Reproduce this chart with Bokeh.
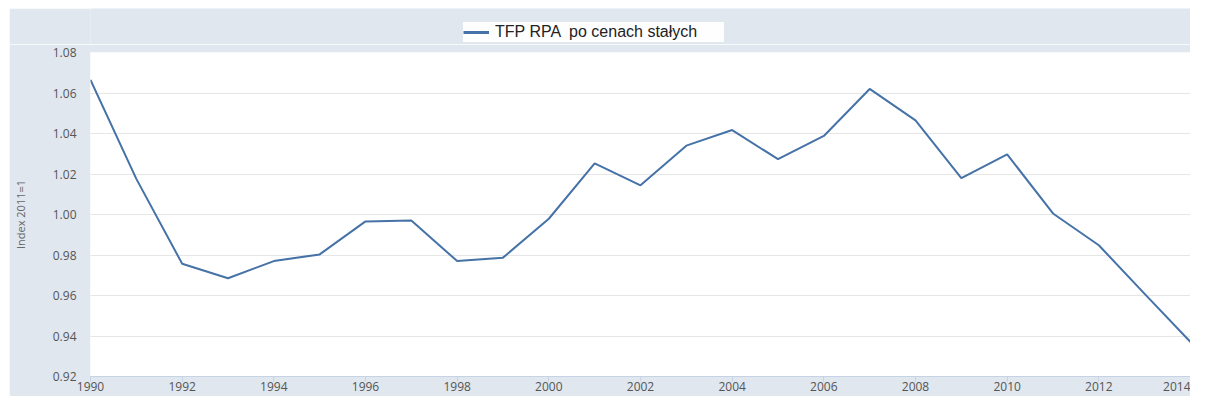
from bokeh.plotting import figure
from bokeh.models import SingleIntervalTicker, Range1d, Legend, LegendItem, NumeralTickFormatter, Spacer
from bokeh.layouts import row, column
from bokeh.embed import file_html
from bokeh.resources import INLINE

years = [1990, 1991, 1992, 1993, 1994, 1995, 1996, 1997, 1998, 1999, 2000, 2001,
         2002, 2003, 2004, 2005, 2006, 2007, 2008, 2009, 2010, 2011, 2012, 2013, 2014]
tfp = [1.0665, 1.0176, 0.9757, 0.9685, 0.9770, 0.9803, 0.9966, 0.9970, 0.9770, 0.9787,
       0.9979, 1.0252, 1.0144, 1.0340, 1.0417, 1.0273, 1.0388, 1.0620, 1.0465, 1.0180,
       1.0297, 1.0005, 0.9848, 0.9608, 0.9370]
series_name = "TFP RPA  po cenach stałych"
y_label = "Index 2011=1"

PANEL = "#E0E7EF"
LINE = "#4572A7"

# ---- legend strip (top of the panel); its ranges keep the proxy series out of view ----
top = figure(width=1181, height=36, output_backend="svg", toolbar_location=None,
             x_axis_location=None, y_axis_location=None,
             x_range=Range1d(0, 1), y_range=Range1d(0, 1),
             min_border_left=81, min_border_right=0, min_border_top=0, min_border_bottom=0)
top.background_fill_color = PANEL
top.border_fill_color = PANEL
top.outline_line_color = None
top.grid.grid_line_color = None
proxy = top.line(years, tfp, line_color=LINE, line_width=3)
legend = Legend(items=[LegendItem(label=series_name + "      ", renderers=[proxy])],
                location=(373, 2), orientation="horizontal",
                label_text_font="Liberation Sans", label_text_font_size="16px",
                label_text_color="#222222", background_fill_color="white",
                border_line_color=None, padding=0, margin=0, spacing=0,
                glyph_width=26, glyph_height=20, label_height=20, label_standoff=6)
top.add_layout(legend, "center")

# ---- main chart ----
p = figure(width=1181, height=352, output_backend="svg", toolbar_location=None,
           x_range=Range1d(1990, 2014), y_range=Range1d(0.92, 1.08),
           min_border_left=81, min_border_right=0, min_border_top=8, min_border_bottom=20)
p.border_fill_color = PANEL
p.background_fill_color = "white"
p.outline_line_color = None

p.line(years, tfp, line_color=LINE, line_width=2)

# x axis
p.xaxis.ticker = SingleIntervalTicker(interval=2, num_minor_ticks=0)
p.xaxis.axis_line_color = "#C5D3E4"
p.xaxis.major_tick_line_color = "#C5D3E4"
p.xaxis.major_tick_in = 0
p.xaxis.major_tick_out = 5
p.xaxis.minor_tick_line_color = None
p.xaxis.major_label_standoff = 0
p.xaxis.major_label_text_font = "Open Sans"
p.xaxis.major_label_text_font_size = "12px"
p.xaxis.major_label_text_color = "#555555"
p.xgrid.grid_line_color = None

# y axis
p.yaxis.ticker = SingleIntervalTicker(interval=0.02, num_minor_ticks=0)
p.yaxis.formatter = NumeralTickFormatter(format="0.00")
p.yaxis.axis_line_color = None
p.yaxis.major_tick_line_color = None
p.yaxis.minor_tick_line_color = None
p.yaxis.major_label_standoff = 8
p.yaxis.major_label_text_font = "Open Sans"
p.yaxis.major_label_text_font_size = "12px"
p.yaxis.major_label_text_color = "#555555"
p.yaxis.axis_label = y_label
p.yaxis.axis_label_text_font = "Open Sans"
p.yaxis.axis_label_text_font_size = "11px"
p.yaxis.axis_label_text_font_style = "normal"
p.yaxis.axis_label_text_color = "#666666"
p.yaxis.axis_label_standoff = 22
p.ygrid.grid_line_color = "#E6E6E6"
p.ygrid.grid_line_width = 1

layout = row(Spacer(width=9, height=396),
             column(Spacer(width=1181, height=8), top, p))
open("out.html", "w").write(file_html(layout, INLINE))
